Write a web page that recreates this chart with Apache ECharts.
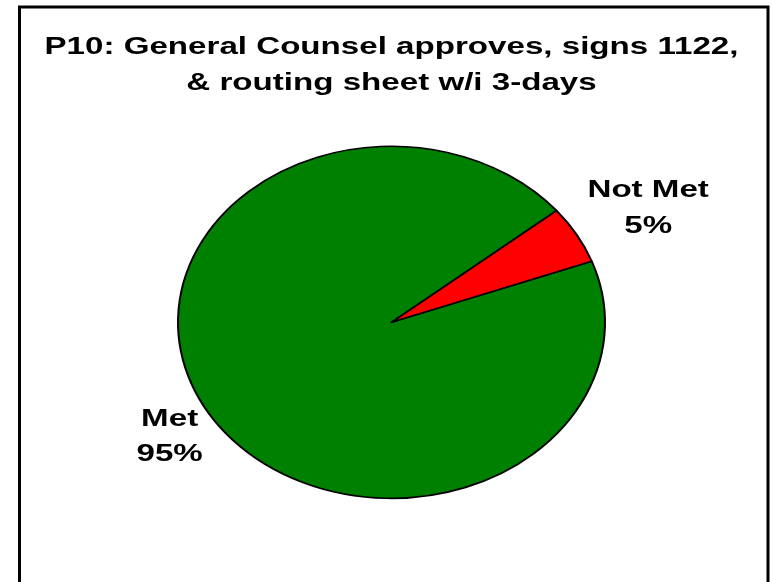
<!DOCTYPE html>
<html>
<head>
<meta charset="utf-8">
<script src="https://cdn.jsdelivr.net/npm/echarts@6/dist/echarts.min.js"></script>
<style>
html,body{margin:0;padding:0;background:#fff;}
#chart{width:772px;height:582px;}
</style>
</head>
<body>
<div id="chart"></div>
<script>
// ---- data ----
const titleLines = ['P10: General Counsel approves, signs 1122,', '& routing sheet w/i 3-days'];
const categories = ['Met', 'Not Met'];
const values = [94.7, 5.3];

// ---- styling / layout ----
const sliceColors = ['#008000', '#FF0000'];
const pieCenter = [391.5, 322.3];
const radiusX = 213.5;
const radiusY = 176;
const startAngleDeg = 20.3;           // counter-clockwise from east, slices run clockwise
const labelFactors = [[1.198, 1.31], [1.386, 1.30]];
const FONT = '"Liberation Sans", Arial, Helvetica, sans-serif';
const textStretch = 1.38;

const total = values.reduce((a, b) => a + b, 0);

function renderItem(params, api) {
  const i = params.dataIndex;
  const v = api.value(0);
  let before = 0;
  for (let k = 0; k < i; k++) before += values[k];
  const a0 = (-startAngleDeg) * Math.PI / 180 + before / total * Math.PI * 2;
  const a1 = a0 + v / total * Math.PI * 2;
  const mid = (a0 + a1) / 2;
  const f = labelFactors[i];
  const lx = pieCenter[0] + f[0] * radiusX * Math.cos(mid);
  const ly = pieCenter[1] + f[1] * radiusY * Math.sin(mid);
  const pct = Math.round(v / total * 100);
  return {
    type: 'group',
    children: [
      {
        type: 'sector',
        x: pieCenter[0],
        y: pieCenter[1],
        scaleX: 1,
        scaleY: radiusY / radiusX,
        shape: { cx: 0, cy: 0, r0: 0, r: radiusX, startAngle: a0, endAngle: a1, clockwise: true },
        style: { fill: sliceColors[i], stroke: '#000', lineWidth: 2, strokeNoScale: true, lineJoin: 'round' }
      },
      {
        type: 'text',
        x: lx,
        y: ly,
        scaleX: textStretch,
        style: {
          text: categories[i] + '\n' + pct + '%',
          fill: '#000',
          fontFamily: FONT,
          fontWeight: 'bold',
          fontSize: 24,
          lineHeight: 35.5,
          align: 'center',
          verticalAlign: 'middle'
        }
      }
    ]
  };
}

const chart = echarts.init(document.getElementById('chart'), null, { renderer: 'canvas' });
chart.setOption({
  animation: false,
  backgroundColor: '#fff',
  graphic: [
    {
      type: 'rect',
      shape: { x: 19.5, y: 7, width: 748.5, height: 640 },
      style: { fill: 'none', stroke: '#000', lineWidth: 3 },
      silent: true
    },
    {
      type: 'text',
      x: 391.5,
      y: 65.5,
      scaleX: textStretch,
      style: {
        text: titleLines.join('\n'),
        fill: '#000',
        font: 'bold 24px ' + FONT,
        lineHeight: 35.5,
        align: 'center',
        verticalAlign: 'middle'
      },
      silent: true
    }
  ],
  series: [{
    type: 'custom',
    coordinateSystem: 'none',
    silent: true,
    renderItem: renderItem,
    data: values.map((v, i) => ({ name: categories[i], value: [v] }))
  }]
});
</script>
</body>
</html>
